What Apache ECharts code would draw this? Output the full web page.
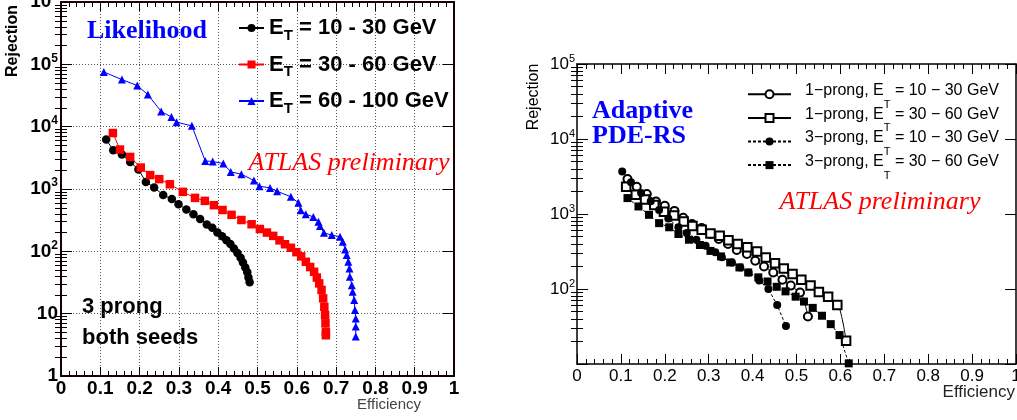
<!DOCTYPE html>
<html><head><meta charset="utf-8">
<script src="https://cdn.jsdelivr.net/npm/echarts@6/dist/echarts.min.js"></script>
<style>html,body{margin:0;padding:0;background:#fff}#c{width:1017px;height:420px}</style>
</head><body><div id="c"></div>
<script>
// ---------- Left panel: Likelihood, 3 prong both seeds ----------
const llhBlackEff = [0.115,0.133,0.155,0.176,0.197,0.216,0.237,0.260,0.282,0.299,0.319,0.337,0.354,0.371,0.385,0.398,0.410,0.421,0.431,0.440,0.449,0.457,0.463,0.469,0.474,0.477,0.480];
const llhBlackRej = [6200,4200,3570,2720,2060,1300,1060,800,690,570,470,395,330,270,238,200,175,150,131,111,94,79,66,55,46,38,32];
const llhRedEff = [0.132,0.150,0.176,0.203,0.227,0.250,0.277,0.310,0.341,0.366,0.389,0.411,0.434,0.459,0.485,0.506,0.524,0.540,0.556,0.570,0.585,0.599,0.611,0.623,0.634,0.644,0.651,0.657,0.663,0.667,0.670,0.672,0.673,0.674,0.674];
const llhRedRej = [7900,4300,3270,2210,1670,1440,1190,900,720,645,550,460,385,318,272,228,200,177,150,130,114,97,83,68,56,47,38,30.6,24,17.6,12.9,9.5,7,5.1,4.5];
const llhBlueEff = [0.109,0.155,0.194,0.221,0.255,0.281,0.294,0.333,0.367,0.386,0.413,0.432,0.459,0.491,0.505,0.532,0.550,0.585,0.604,0.610,0.623,0.642,0.655,0.659,0.669,0.689,0.710,0.717,0.723,0.727,0.731,0.734,0.735,0.740,0.742,0.746,0.748,0.750,0.750,0.750];
const llhBlueRej = [75300,56900,45600,32700,17500,14300,11800,10300,2820,2760,2560,1880,1730,1370,1110,1040,920,750,600,457,395,357,297,254,198,182,171,142,107,87,68,53,39,28.7,22.4,16.5,11.4,8.4,6.2,4.3];

// ---------- Right panel: Adaptive PDE-RS ----------
const pde1pLowEff = [0.115,0.136,0.159,0.180,0.200,0.222,0.242,0.262,0.284,0.304,0.323,0.344,0.364,0.387,0.406,0.426,0.447,0.468,0.487,0.508,0.526];
const pde1pLowRej = [2930,2310,1850,1470,1290,1100,890,736,650,541,464,398,331,293,238,200,166,133,111,90,43];
const pde1pHighEff = [0.112,0.134,0.155,0.176,0.198,0.221,0.243,0.263,0.284,0.304,0.325,0.345,0.366,0.388,0.410,0.430,0.451,0.471,0.491,0.511,0.532,0.551,0.572,0.593,0.613];
const pde1pHighRej = [2310,1808,1560,1320,1070,955,795,690,617,550,513,447,398,359,316,263,221,188,158,133,111,91,79,61,20.4];
const pde3pLowEff = [0.103,0.123,0.146,0.168,0.187,0.208,0.231,0.250,0.272,0.293,0.315,0.330,0.353,0.372,0.391,0.415,0.436,0.456,0.476];
const pde3pLowRej = [3700,2650,1910,1480,1130,870,665,560,455,378,308,265,226,194,166,130,100,61,32];
const pde3pHighEff = [0.115,0.140,0.164,0.187,0.210,0.231,0.255,0.280,0.304,0.328,0.349,0.370,0.390,0.413,0.434,0.455,0.475,0.498,0.517,0.537,0.558,0.578,0.598,0.619];
const pde3pHighRej = [1630,1260,975,755,665,541,454,386,322,272,226,194,166,143,126,107,93,79,68,56,44,34,24.3,10.2];

// tick values
const effTicks = [0,0.1,0.2,0.3,0.4,0.5,0.6,0.7,0.8,0.9,1];
const leftDecades = [1,10,100,1000,10000,100000,1000000];
const rightDecades = [10,100,1000,10000,100000];

function zip(a,b){return a.map((v,i)=>[v,b[i]]);}
function minorLog(decades){const out=[];for(let i=0;i<decades.length-1;i++){for(let m=2;m<=9;m++)out.push(m*decades[i]);}return out;}

const SANS='"Liberation Sans", Arial, sans-serif';
const SERIF='"Liberation Serif", "Times New Roman", serif';

function supLabel(v){
  const e=Math.round(Math.log10(v));
  if(e===0) return '{b|1}';
  if(e===1) return '{b|10}';
  return '{b|10}{sup|'+e+'}';
}

const leftNames = {
  'L1': '{m|E}{s|T}{m| = 10 - 30 GeV}',
  'L2': '{m|E}{s|T}{m| = 30 - 60 GeV}',
  'L3': '{m|E}{s|T}{m| = 60 - 100 GeV}'
};
const rightNames = {
  'R1': '{sp| }{m|1\u2212prong, E}{s|T}{m| = 10 \u2212 30 GeV}',
  'R2': '{sp| }{m|1\u2212prong, E}{s|T}{m| = 30 \u2212 60 GeV}',
  'R3': '{sp| }{m|3\u2212prong, E}{s|T}{m| = 10 \u2212 30 GeV}',
  'R4': '{sp| }{m|3\u2212prong, E}{s|T}{m| = 30 \u2212 60 GeV}'
};

const frameL = {show:true, lineStyle:{color:'#1a0000', width:2}};
const frameR = {show:true, lineStyle:{color:'#000', width:1.5}};

function xAxisDef(grid, pos, labels, frame, gridLines, big){
  return {
    type:'value', gridIndex:grid, position:pos, min:0, max:1, interval:0.1,
    axisLine: Object.assign({onZero:false}, frame),
    axisTick:{show:true, inside:true, length:big?9:10, lineStyle:{color:'#000', width:1}},
    minorTick:{show:true, splitNumber:5, length:5, lineStyle:{color:'#000', width:1}},
    axisLabel: labels ? (big ? {show:true, margin:3, fontFamily:SANS, fontWeight:'bold', fontSize:19, color:'#000', showMinLabel:true, showMaxLabel:true, formatter:v=>String(Math.round(v*10)/10)}
                              : {show:true, margin:4, fontFamily:SANS, fontSize:17, color:'#000', showMinLabel:true, showMaxLabel:true, formatter:v=>String(Math.round(v*10)/10)})
                   : {show:false},
    splitLine: gridLines ? {show:true, lineStyle:{color:'#555', type:[1,2], width:1}} : {show:false},
    minorSplitLine:{show:false}
  };
}

function yMain(grid, pos, min, max, labels, frame, gridLines, big){
  return {
    type:'log', logBase:10, gridIndex:grid, position:pos, min:min, max:max, interval:1,
    axisLine: Object.assign({onZero:false}, frame),
    axisTick:{show:true, inside:true, length:11, lineStyle:{color:'#000', width:1}},
    minorTick:{show:false},
    axisLabel: labels ? {
      show:true, margin: big?3:2, showMinLabel:true, showMaxLabel:true,
      formatter: v => (!big && v<50) ? '' : supLabel(v),
      rich: big ? {
        b:{fontFamily:SANS, fontWeight:'bold', fontSize:19, lineHeight:24, color:'#000'},
        sup:{fontFamily:SANS, fontWeight:'bold', fontSize:12, lineHeight:12, verticalAlign:'top', color:'#000'}
      } : {
        b:{fontFamily:SANS, fontSize:17, lineHeight:22, color:'#000'},
        sup:{fontFamily:SANS, fontSize:11, lineHeight:10, verticalAlign:'top', color:'#000'}
      }
    } : {show:false},
    splitLine: gridLines ? {show:true, lineStyle:{color:'#555', type:[1,2], width:1}} : {show:false}
  };
}
function yMinor(grid, pos, min, max, decades){
  return {
    type:'log', logBase:10, gridIndex:grid, position:pos, min:min, max:max, interval:1,
    axisLine:{show:false},
    axisTick:{show:true, inside:true, length:6, customValues:minorLog(decades), lineStyle:{color:'#000', width:1}},
    axisLabel:{show:false}, splitLine:{show:false}
  };
}

const option = {
  animation:false,
  backgroundColor:'#fff',
  grid:[
    {left:61, top:2, width:393, height:374, containLabel:false, outerBoundsMode:'none'},
    {left:577, top:64, width:439, height:300, containLabel:false, outerBoundsMode:'none'}
  ],
  xAxis:[
    xAxisDef(0,'bottom',true,frameL,true,true),
    xAxisDef(0,'top',false,frameL,false,true),
    xAxisDef(1,'bottom',true,frameR,false,false),
    xAxisDef(1,'top',false,frameR,false,false)
  ],
  yAxis:[
    yMain(0,'left',1,1e6,true,frameL,true,true),
    yMinor(0,'left',1,1e6,leftDecades),
    yMain(0,'right',1,1e6,false,frameL,false,true),
    yMinor(0,'right',1,1e6,leftDecades),
    yMain(1,'left',10,1e5,true,frameR,false,false),
    yMinor(1,'left',10,1e5,rightDecades),
    yMain(1,'right',10,1e5,false,frameR,false,false),
    yMinor(1,'right',10,1e5,rightDecades)
  ],
  legend:[
    {
      left:238, top:17, orient:'vertical', padding:0, itemWidth:25, itemHeight:10, itemGap:10.5,
      selectedMode:false, data:['L1','L2','L3'],
      formatter: n => leftNames[n],
      textStyle:{rich:{
        m:{fontFamily:SANS, fontWeight:'bold', fontSize:22, lineHeight:30, color:'#000'},
        s:{fontFamily:SANS, fontWeight:'bold', fontSize:15, lineHeight:14, verticalAlign:'bottom', color:'#000'}
      }}
    },
    {
      left:747, top:77.3, orient:'vertical', padding:0, itemWidth:43, itemHeight:10, itemGap:-10.4,
      selectedMode:false, data:['R1','R2','R3','R4'],
      formatter: n => rightNames[n],
      textStyle:{rich:{
        sp:{width:9, fontSize:16, lineHeight:34, fontFamily:SANS},
        m:{fontFamily:SANS, fontSize:16, height:27, lineHeight:34, verticalAlign:'top', color:'#000'},
        s:{fontFamily:SANS, fontSize:11, height:13, lineHeight:13, verticalAlign:'bottom', color:'#000'}
      }}
    }
  ],
  series:[
    {name:'L1', type:'line', xAxisIndex:0, yAxisIndex:0, data:zip(llhBlackEff,llhBlackRej),
     symbol:'circle', symbolSize:8.5, showAllSymbol:true, lineStyle:{color:'#000', width:1}, itemStyle:{color:'#000'}},
    {name:'L2', type:'line', xAxisIndex:0, yAxisIndex:0, data:zip(llhRedEff,llhRedRej),
     symbol:'rect', symbolSize:8.5, showAllSymbol:true, lineStyle:{color:'#f00', width:1}, itemStyle:{color:'#f00'}},
    {name:'L3', type:'line', xAxisIndex:0, yAxisIndex:0, data:zip(llhBlueEff,llhBlueRej),
     symbol:'triangle', symbolSize:8, showAllSymbol:true, lineStyle:{color:'#00f', width:1}, itemStyle:{color:'#00f'}},

    {name:'R1', type:'line', xAxisIndex:2, yAxisIndex:4, data:zip(pde1pLowEff,pde1pLowRej),
     symbol:'emptyCircle', symbolSize:8, showAllSymbol:true, smooth:0.4, smoothMonotone:'x',
     lineStyle:{color:'#000', width:1}, itemStyle:{color:'#000', borderWidth:1}},
    {name:'R2', type:'line', xAxisIndex:2, yAxisIndex:4, data:zip(pde1pHighEff,pde1pHighRej),
     symbol:'emptyRect', symbolSize:8.5, showAllSymbol:true, smooth:0.4, smoothMonotone:'x',
     lineStyle:{color:'#000', width:1}, itemStyle:{color:'#000', borderWidth:1}},
    {name:'R3', type:'line', xAxisIndex:2, yAxisIndex:4, data:zip(pde3pLowEff,pde3pLowRej),
     symbol:'circle', symbolSize:8, showAllSymbol:true,
     lineStyle:{color:'#000', width:1, type:[3,2]}, itemStyle:{color:'#000'}},
    {name:'R4', type:'line', xAxisIndex:2, yAxisIndex:4, data:zip(pde3pHighEff,pde3pHighRej),
     symbol:'rect', symbolSize:8, showAllSymbol:true,
     lineStyle:{color:'#000', width:1, type:[3,2]}, itemStyle:{color:'#000'}}
  ],
  graphic:[
    {type:'text', x:87, y:31.5, style:{text:'Likelihood', font:'bold 26px '+SERIF, fill:'#0000ff', align:'left', verticalAlign:'middle'}},
    {type:'text', x:349, y:163, style:{text:'ATLAS preliminary', font:'italic 26px '+SERIF, fill:'#ff0000', align:'center', verticalAlign:'middle'}},
    {type:'text', x:82, y:307, style:{text:'3 prong', font:'bold 22px '+SANS, fill:'#000', align:'left', verticalAlign:'middle'}},
    {type:'text', x:82, y:338, style:{text:'both seeds', font:'bold 22px '+SANS, fill:'#000', align:'left', verticalAlign:'middle'}},
    {type:'text', x:421, y:405, style:{text:'Efficiency', font:'15px '+SANS, fill:'#444', align:'right', verticalAlign:'middle'}},
    {type:'text', x:13, y:41, rotation:Math.PI/2, style:{text:'Rejection', font:'bold 16px '+SANS, fill:'#000', align:'center', verticalAlign:'middle'}},

    {type:'text', x:592, y:111.7, style:{text:'Adaptive', font:'bold 26px '+SERIF, fill:'#0000ff', align:'left', verticalAlign:'middle'}},
    {type:'text', x:592, y:136, style:{text:'PDE-RS', font:'bold 26px '+SERIF, fill:'#0000ff', align:'left', verticalAlign:'middle'}},
    {type:'text', x:880, y:202, style:{text:'ATLAS preliminary', font:'italic 26px '+SERIF, fill:'#ff0000', align:'center', verticalAlign:'middle'}},
    {type:'text', x:1015, y:392, style:{text:'Efficiency', font:'17px '+SANS, fill:'#222', align:'right', verticalAlign:'middle'}},
    {type:'text', x:534, y:97, rotation:Math.PI/2, style:{text:'Rejection', font:'16px '+SANS, fill:'#000', align:'center', verticalAlign:'middle'}}
  ]
};

const chart = echarts.init(document.getElementById('c'), null, {renderer:'canvas'});
chart.setOption(option);
</script>
</body></html>
